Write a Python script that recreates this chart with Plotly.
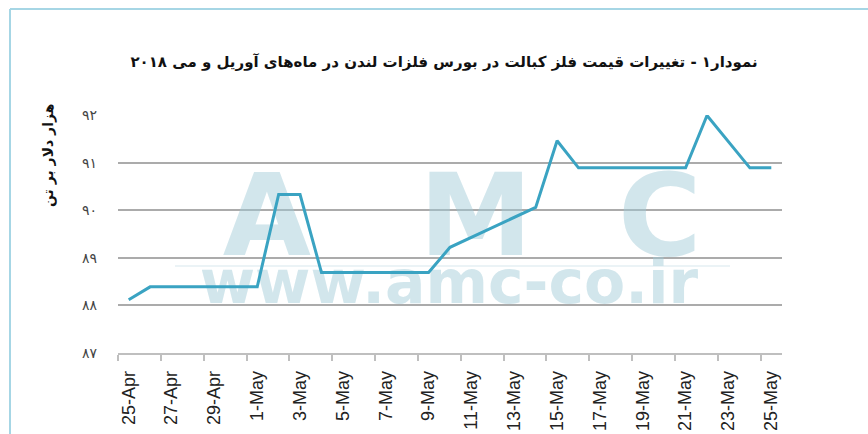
import plotly.graph_objects as go

# ---- data ----
dates = ["25-Apr", "26-Apr", "27-Apr", "28-Apr", "29-Apr", "30-Apr",
         "1-May", "2-May", "3-May", "4-May", "5-May", "6-May", "7-May", "8-May",
         "9-May", "10-May", "11-May", "12-May", "13-May", "14-May", "15-May",
         "16-May", "17-May", "18-May", "19-May", "20-May", "21-May", "22-May",
         "23-May", "24-May", "25-May"]
price = [88.12, 88.39, 88.39, 88.39, 88.39, 88.39, 88.39, 90.33, 90.33, 88.69,
         88.69, 88.69, 88.69, 88.69, 88.69, 89.22, 89.43, 89.64, 89.85, 90.06,
         91.46, 90.89, 90.89, 90.89, 90.89, 90.89, 90.89, 91.99, 91.44, 90.89, 90.89]
y_tick_vals = [87, 88, 89, 90, 91, 92]
y_tick_text = ["۸۷", "۸۸", "۸۹", "۹۰", "۹۱", "۹۲"]
title_text = "نمودار۱ - تغییرات قیمت فلز کبالت در بورس فلزات لندن در ماه‌های آوریل و می ۲۰۱۸"
y_title = "هزار دلار بر تن"
watermark_letters = ["A", "M", "C"]
watermark_url = "www.amc-co.ir"

idx = list(range(len(dates)))
label_idx = idx[::2]
label_text = dates[::2]
boundary_ticks = [i - 0.5 for i in label_idx]

fig = go.Figure()

# watermark (behind the line)
wm_color = "rgba(160,202,215,0.47)"
fig.add_trace(go.Scatter(
    x=[6.45, 16.2, 24.8], y=[89.66, 89.66, 89.66], mode="text",
    text=watermark_letters,
    textfont=dict(family="DejaVu Sans", size=114, color=wm_color, weight="bold"),
    hoverinfo="skip", showlegend=False, cliponaxis=False))
fig.add_trace(go.Scatter(
    x=[14.95], y=[88.36], mode="text", text=[watermark_url],
    textfont=dict(family="DejaVu Sans", size=60, color=wm_color, weight="bold"),
    hoverinfo="skip", showlegend=False, cliponaxis=False))

# data line
fig.add_trace(go.Scatter(
    x=idx, y=price, mode="lines",
    line=dict(color="#3aa3c2", width=3),
    showlegend=False, hovertext=dates, hoverinfo="text+y"))

L, R, T, B = 118, 86, 115, 81
W, H = 868, 434
pw, ph = W - L - R, H - T - B

def px(x):
    return (x - L) / pw

def py(y):
    return (H - B - y) / ph

fig.update_layout(
    width=W, height=H,
    margin=dict(l=L, r=R, t=T, b=B),
    paper_bgcolor="white", plot_bgcolor="rgba(0,0,0,0)",
    title=dict(text=title_text, x=444 / W, y=1 - 62 / H,
               xanchor="center", yanchor="middle",
               font=dict(family="DejaVu Sans", size=15, color="#111111", weight="bold")),
    xaxis=dict(range=[-0.5, 30.5], tickmode="array", tickvals=label_idx,
               ticktext=label_text, tickangle=-90, ticks="",
               ticklabelstandoff=9, automargin=False,
               tickfont=dict(family="Liberation Sans", size=18, color="#222222"),
               showgrid=False, zeroline=False, showline=True,
               linecolor="#bfbfbf", linewidth=1.5,
               minor=dict(tickmode="array", tickvals=boundary_ticks, ticks="outside",
                          ticklen=6, tickcolor="#bfbfbf", tickwidth=1.5, showgrid=False)),
    yaxis=dict(range=[87, 92], tickmode="array", tickvals=y_tick_vals,
               ticktext=y_tick_text, ticks="", ticklabelstandoff=20, automargin=False,
               tickfont=dict(family="DejaVu Sans", size=14, color="#444444"),
               showgrid=True, gridcolor="#ababab", gridwidth=1.5,
               zeroline=False, showline=False),
    annotations=[dict(text=y_title, xref="paper", yref="paper",
                      x=px(48), y=py(156), xanchor="center", yanchor="middle",
                      textangle=-90, showarrow=False,
                      font=dict(family="DejaVu Sans", size=14, color="#111111", weight="bold"))],
    shapes=[
        dict(type="line", xref="paper", yref="paper", x0=px(10), x1=px(10),
             y0=py(434), y1=py(9), line=dict(color="#a6d6e5", width=2)),
        dict(type="line", xref="paper", yref="paper", x0=px(10), x1=px(868),
             y0=py(9), y1=py(9), line=dict(color="#a6d6e5", width=2)),
        dict(type="line", xref="paper", yref="paper", x0=px(175), x1=px(730),
             y0=py(266), y1=py(266), layer="below",
             line=dict(color="#e4eff3", width=1.5)),
    ],
)

fig.write_html("out.html", config={"displayModeBar": False},
               post_script="document.body.style.margin='0px';")
